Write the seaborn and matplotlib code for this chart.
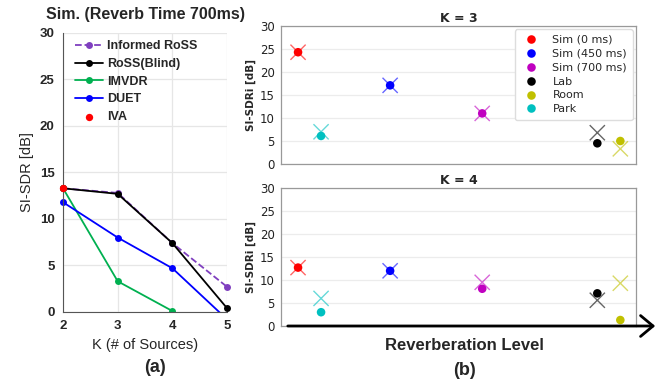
import matplotlib
matplotlib.use("Agg")
import matplotlib.pyplot as plt
from matplotlib.transforms import Bbox, TransformedBbox
import seaborn as sns
import numpy as np
import pandas as pd

# panel (a): SI-SDR vs number of sources
k_sources = [2, 3, 4, 5]
informed_ross = [13.3, 12.8, 7.4, 2.7]
ross_blind = [13.3, 12.7, 7.4, 0.4]
imvdr = [13.3, 3.3, 0.1]
duet = [11.8, 8.0, 4.7, -0.8]
iva = [13.3]

# panel (b): SI-SDRi per condition
conditions = ["Sim (0 ms)", "Sim (450 ms)", "Sim (700 ms)", "Lab", "Room", "Park"]
cond_pos = [1.0, 2.0, 3.0, 4.25, 4.5, 1.25]
cond_colors = ["#ff0000", "#0000ff", "#c000c0", "#000000", "#c0c000", "#00c0c0"]
k3_dot = [24.3, 17.1, 11.0, 4.5, 5.0, 6.1]
k3_cross = [24.3, 17.1, 11.0, 6.8, 3.3, 7.0]
k4_dot = [12.7, 12.0, 8.1, 7.1, 1.3, 3.0]
k4_cross = [12.7, 12.0, 9.5, 5.6, 9.3, 6.0]

sns.set_style("white")
plt.rcParams["font.family"] = ["Liberation Sans", "DejaVu Sans"]

fig = plt.figure(figsize=(6.67, 3.83), dpi=100)

# ---------- (a) ----------
ax = fig.add_axes([0.0945, 0.1854, 0.246, 0.7285])
series = [
    ("Informed RoSS", informed_ross, "#7f3fbf", "--"),
    ("RoSS(Blind)", ross_blind, "#000000", "-"),
    ("IMVDR", imvdr, "#00b050", "-"),
    ("DUET", duet, "#0000ff", "-"),
]
for name, vals, col, ls in series:
    sns.lineplot(x=k_sources[:len(vals)], y=vals, ax=ax, color=col, linestyle=ls,
                 marker="o", markersize=5, markeredgewidth=0, linewidth=1.3, label=name)
sns.scatterplot(x=k_sources[:1], y=iva, ax=ax, color="#ff0000", s=28, linewidth=0,
                label="IVA", zorder=5)

# let edge markers show, but keep the DUET line cut at y = 0
clip = TransformedBbox(Bbox([[-0.05, 0.0], [1.05, 1.05]]), ax.transAxes)
for ln in ax.lines:
    ln.set_clip_box(clip)
for c in ax.collections:
    c.set_clip_on(False)

ax.set_xlim(2, 5)
ax.set_ylim(0, 30)
ax.set_xticks([2, 3, 4, 5])
ax.set_yticks(np.arange(0, 31, 5))
ax.grid(True, color="#e6e6e6", linewidth=0.9)
for s in ["top", "right"]:
    ax.spines[s].set_visible(False)
for s in ["left", "bottom"]:
    ax.spines[s].set_color("#555555")
ax.tick_params(length=0, labelsize=9.5, pad=6)
for t in ax.get_xticklabels() + ax.get_yticklabels():
    t.set_fontweight("bold")
ax.set_xlabel("K (# of Sources)", fontsize=10.5, labelpad=4)
ax.set_ylabel("SI-SDR [dB]", fontsize=10.5, labelpad=4)
ax.set_title("Sim. (Reverb Time 700ms)", fontsize=11.5, fontweight="bold", pad=10)
ax.legend(loc="upper left", bbox_to_anchor=(0.03, 1.0), frameon=False,
          prop={"weight": "bold", "size": 9}, handlelength=2.2,
          labelspacing=0.45, handletextpad=0.3, borderaxespad=0.2)
fig.text(0.232, 0.03, "(a)", fontsize=13, fontweight="bold", ha="center")

# ---------- (b) ----------
pos_b = [[0.4213, 0.5718, 0.5322, 0.3603], [0.4213, 0.1488, 0.5322, 0.3603]]
panels = [("K = 3", k3_dot, k3_cross), ("K = 4", k4_dot, k4_cross)]
for i, (title, dots, crosses) in enumerate(panels):
    bx = fig.add_axes(pos_b[i])
    df = pd.DataFrame({"cond": conditions, "x": cond_pos, "dot": dots, "cross": crosses})
    pal = dict(zip(conditions, cond_colors))
    sns.scatterplot(data=df, x="x", y="cross", hue="cond", palette=pal, marker="x",
                    s=120, linewidth=1.0, alpha=0.6, ax=bx, legend=False, zorder=3)
    sns.scatterplot(data=df, x="x", y="dot", hue="cond", palette=pal, marker="o",
                    s=38, linewidth=0, ax=bx, legend=(i == 0), zorder=4)
    bx.set_xlim(0.815, 4.67)
    bx.set_ylim(0, 30)
    bx.set_yticks(np.arange(0, 31, 5))
    bx.set_xticks([])
    bx.yaxis.grid(True, color="#ececec", linewidth=0.9)
    for s in bx.spines.values():
        s.set_color("#999999")
        s.set_linewidth(0.9)
    bx.tick_params(axis="y", length=2.5, labelsize=8.5, pad=2, colors="#222222",
                   labelfontfamily="DejaVu Sans")
    bx.set_xlabel("")
    bx.set_ylabel("SI-SDRi [dB]", fontsize=7.5, fontweight="bold", family="DejaVu Sans",
                  labelpad=3)
    bx.set_title(title, fontsize=9, fontweight="bold", family="DejaVu Sans", pad=3)
    if i == 0:
        bx.legend(loc="upper right", prop={"family": "DejaVu Sans", "size": 8},
                  handletextpad=0.9, labelspacing=0.35, borderpad=0.5,
                  framealpha=1.0, edgecolor="#dddddd", fancybox=True,
                  borderaxespad=0.3)

fig.add_artist(matplotlib.patches.FancyArrowPatch(
    (285 / 667, 1 - 326 / 383), (658 / 667, 1 - 326 / 383), transform=fig.transFigure,
    arrowstyle="->,head_length=6,head_width=5", color="black", linewidth=2.0,
    mutation_scale=1.5))
fig.text(0.697, 0.085, "Reverberation Level", fontsize=12, fontweight="bold", ha="center")
fig.text(0.697, 0.02, "(b)", fontsize=13, fontweight="bold", ha="center")

fig.savefig("out.png", dpi=100)
